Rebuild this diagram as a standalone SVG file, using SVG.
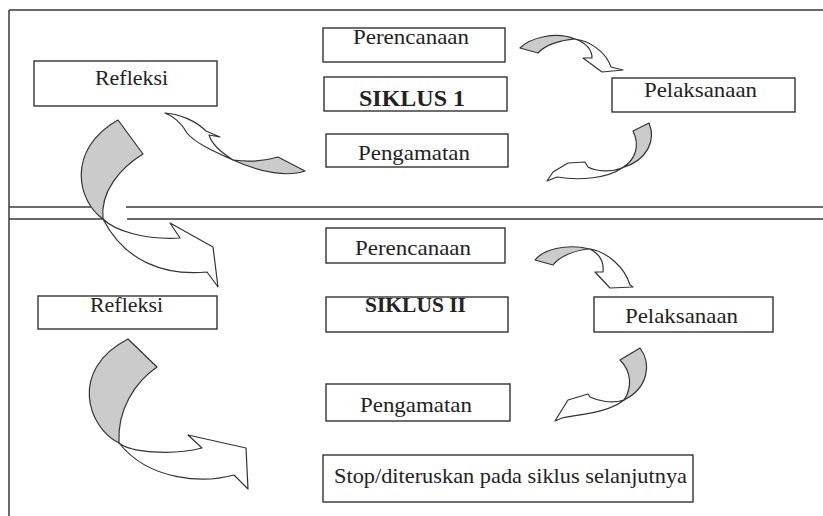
<svg xmlns="http://www.w3.org/2000/svg" width="823" height="516" viewBox="0 0 823 516">
<style>
.frame{stroke:#3a3a3a;stroke-width:1.5;fill:none}
.box{fill:#fff;stroke:#333;stroke-width:1.4}
.t{font-family:"Liberation Serif","Times New Roman",serif;font-size:21px;fill:#222}
.b{font-weight:bold}
.back{fill:#cbcbcb;stroke:#333;stroke-width:1.2;stroke-linejoin:round}
.front{fill:#fff;stroke:#333;stroke-width:1.2;stroke-linejoin:round}
</style>
<rect width="823" height="516" fill="#fff"/>
<g id="frame">
<line class="frame" x1="9" y1="10" x2="823" y2="10"/>
<line class="frame" x1="9" y1="10" x2="9" y2="516"/>
<line class="frame" x1="9" y1="207" x2="92" y2="207"/>
<line class="frame" x1="126" y1="207" x2="823" y2="207"/>
<line class="frame" x1="9" y1="219" x2="103" y2="219"/>
<line class="frame" x1="127" y1="219" x2="823" y2="219"/>
</g>
<g id="refleksi1"><rect class="box" x="34" y="61" width="183" height="45"/><text class="t" x="95" y="85" textLength="73" lengthAdjust="spacingAndGlyphs">Refleksi</text></g>
<g id="perencanaan1"><rect class="box" x="323" y="28" width="182" height="34"/><text class="t" x="353" y="44" textLength="116" lengthAdjust="spacingAndGlyphs">Perencanaan</text></g>
<g id="siklus1"><rect class="box" x="324" y="77" width="183" height="34"/><text class="t b" x="359" y="106" style="font-size:24px" textLength="106" lengthAdjust="spacingAndGlyphs">SIKLUS 1</text></g>
<g id="pengamatan1"><rect class="box" x="326" y="134" width="182" height="33"/><text class="t" x="358" y="160" textLength="112" lengthAdjust="spacingAndGlyphs">Pengamatan</text></g>
<g id="pelaksanaan1"><rect class="box" x="612" y="78" width="183" height="34"/><text class="t" x="644" y="97" textLength="113" lengthAdjust="spacingAndGlyphs">Pelaksanaan</text></g>
<g id="refleksi2"><rect class="box" x="38" y="296" width="179" height="33"/><text class="t" x="90" y="312" textLength="73" lengthAdjust="spacingAndGlyphs">Refleksi</text></g>
<g id="perencanaan2"><rect class="box" x="326" y="228" width="179" height="35"/><text class="t" x="355" y="255" textLength="116" lengthAdjust="spacingAndGlyphs">Perencanaan</text></g>
<g id="siklus2"><rect class="box" x="326" y="297" width="182" height="35"/><text class="t b" x="365" y="312" style="font-size:22px" textLength="101" lengthAdjust="spacingAndGlyphs">SIKLUS II</text></g>
<g id="pelaksanaan2"><rect class="box" x="594" y="297" width="179" height="35"/><text class="t" x="625" y="323" textLength="113" lengthAdjust="spacingAndGlyphs">Pelaksanaan</text></g>
<g id="pengamatan2"><rect class="box" x="326" y="384" width="184" height="37"/><text class="t" x="360" y="412" textLength="112" lengthAdjust="spacingAndGlyphs">Pengamatan</text></g>
<g id="stop"><rect class="box" x="323" y="455" width="370" height="47"/><text class="t" x="334" y="483" style="font-size:22px" textLength="353" lengthAdjust="spacingAndGlyphs">Stop/diteruskan pada siklus selanjutnya</text></g>
<g id="connectors">
<g id="arrow-refleksi1-siklus2">
<path class="back" d="M118,120 L143,154 C120,168 100,192 103,219 C78,202 65,150 118,120 Z"/>
<path class="front" d="M103,219 C115,231 145,240 180,238 L170,223 L213,247 L218,287 L207,272 C165,276 125,262 103,219 Z"/>
</g>
<g id="arrow-pengamatan1-refleksi1">
<path class="back" d="M233,160 C248,162 265,161 278,157 L305,171 C288,177 262,173 233,160 Z"/>
<path class="front" d="M165,113 C180,114 196,121 206,131 L220,137 L209,135 C212,145 222,153 233,160 C215,152 195,143 187,133 C182,124 175,117 165,113 Z"/>
</g>
<g id="arrow-perencanaan1-pelaksanaan1">
<path class="back" d="M520,48 C530,38 555,31 575,39 C560,40 545,45 538,53 Z"/>
<path class="front" d="M575,39 C590,41 606,52 611,67 L623,70 L602,72 L583,58 L592,58 C592,50 586,43 575,39 Z"/>
</g>
<g id="arrow-pelaksanaan1-pengamatan1">
<path class="back" d="M649,123 C656,140 648,160 622,168 C636,160 640,145 633,131 Z"/>
<path class="front" d="M622,168 C612,172 597,172 588,167 L585,162 L568,163 L553,172 L547,181 L557,177 C580,181 608,178 622,168 Z"/>
</g>
<g id="arrow-perencanaan2-pelaksanaan2">
<path class="back" d="M535,260 C543,250 565,243 590,249 C575,250 560,256 553,265 Z"/>
<path class="front" d="M590,249 C608,252 625,268 630,285 L633,287 L610,288 L595,272 L603,272 C604,262 600,254 590,249 Z"/>
</g>
<g id="arrow-pelaksanaan2-pengamatan2">
<path class="back" d="M640,348 C652,364 648,388 624,400 C632,388 632,372 620,360 Z"/>
<path class="front" d="M624,400 C612,404 598,401 590,397 L588,394 L568,400 L555,421 L562,418 C580,414 608,413 624,400 Z"/>
</g>
<g id="arrow-refleksi2-stop">
<path class="back" d="M128,339 L157,367 C135,382 117,410 119,443 C88,428 68,370 128,339 Z"/>
<path class="front" d="M119,443 C130,452 170,456 202,448 L188,435 L246,448 L248,489 L234,475 C205,483 150,482 119,443 Z"/>
</g>
</g>
</svg>
